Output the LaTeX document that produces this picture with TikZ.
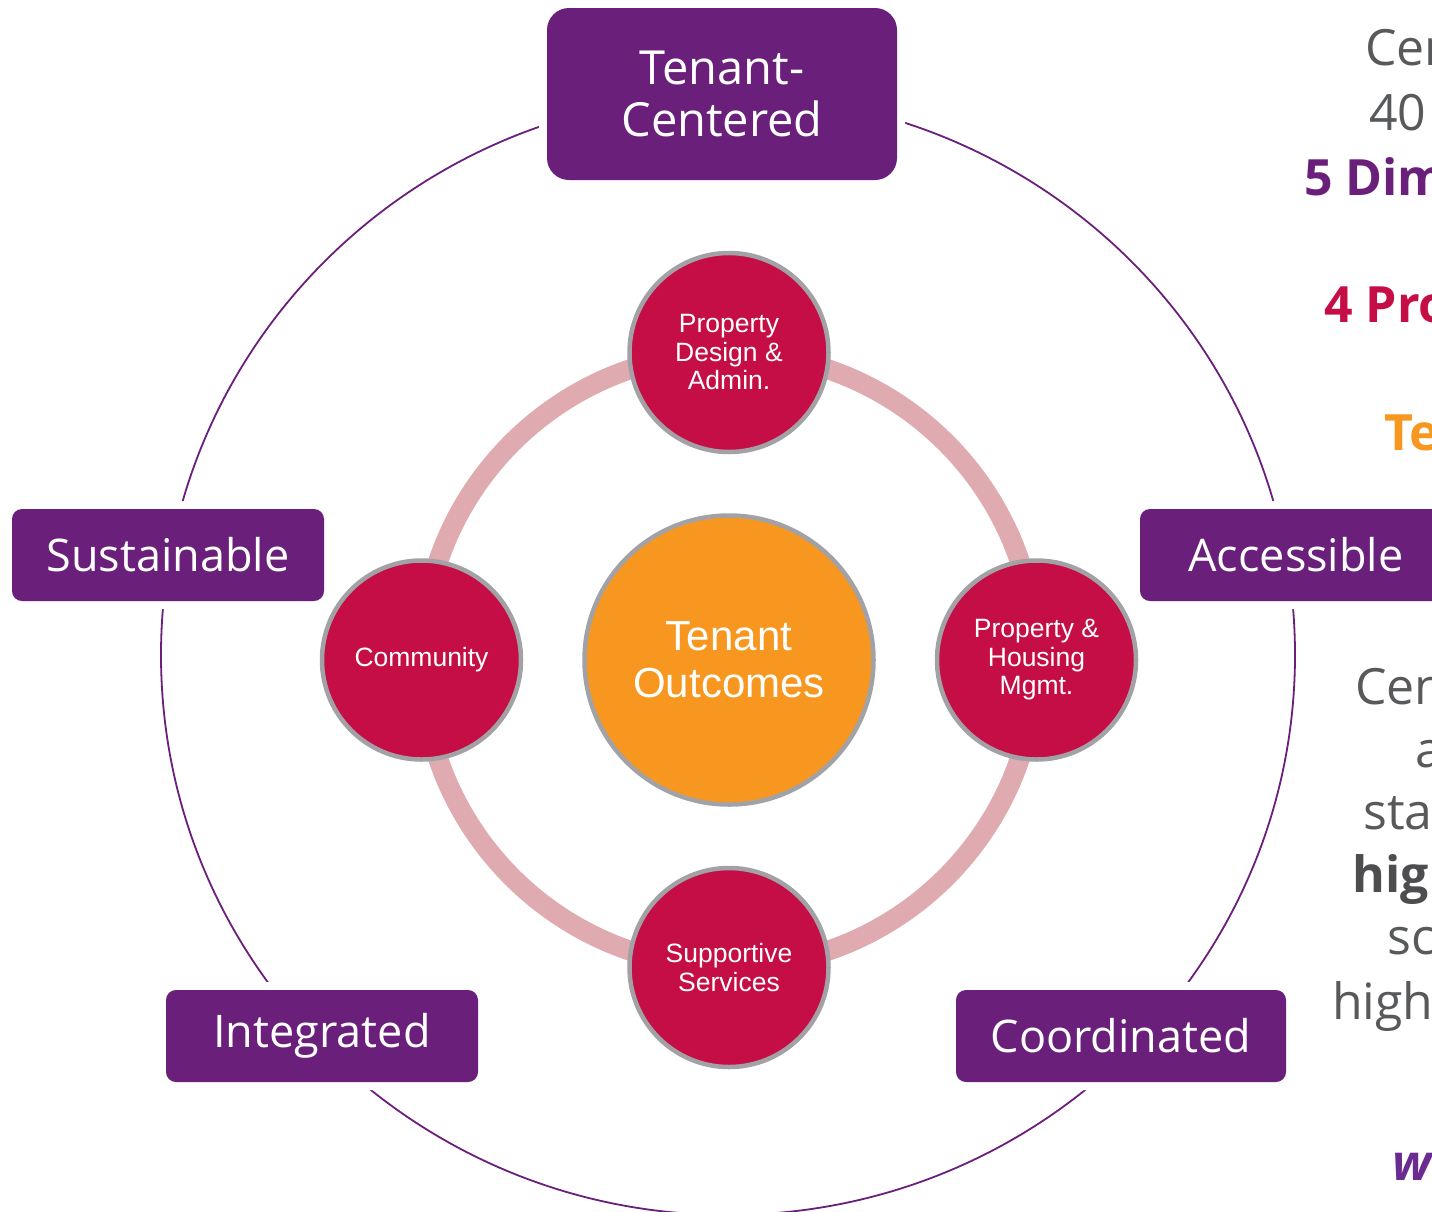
\documentclass[tikz,border=0pt]{standalone}
\usepackage{fontspec}
\setmainfont{Open Sans}
\newfontfamily\arialfont{Liberation Sans}
\usepackage{xcolor}
\usepackage{tikz}
\usetikzlibrary{positioning}

\definecolor{dimpurple}{HTML}{6A1F7A}
\definecolor{areared}{HTML}{C40E45}
\definecolor{coreorange}{HTML}{F7971F}
\definecolor{rimgray}{HTML}{A2A2A6}
\definecolor{ringpink}{HTML}{DFAAB0}
\definecolor{bodygray}{HTML}{58595B}
\definecolor{stronggray}{HTML}{4D4D4F}
\definecolor{linkpurple}{HTML}{6B2C91}

\begin{document}
\begin{tikzpicture}[
        x=1pt, y=-1pt,
        dim/.style={rectangle, fill=dimpurple, text=white, rounded corners=10pt, minimum width=312pt, minimum height=92pt, inner sep=0pt, align=center, font=\fontsize{45}{52}\selectfont, preaction={draw=white, line width=16pt}},
        area/.style={circle, fill=areared, draw=rimgray, line width=4.5pt, minimum size=199pt, inner sep=0pt, align=center, text=white, font=\arialfont\fontsize{26.5}{28.5}\selectfont},
        core/.style={circle, fill=coreorange, draw=rimgray, line width=4.5pt, minimum size=289pt, inner sep=0pt, align=center, text=white, font=\arialfont\fontsize{42}{47}\selectfont},
        cycleline/.style={draw=dimpurple, line width=1.8pt},
        ring/.style={draw=ringpink, line width=20pt},
        side/.style={anchor=base west, inner sep=0pt, font=\fontsize{50}{63}\selectfont, text=bodygray},
    ]
        \useasboundingbox (0,0) rectangle (1432,1211);
        \clip (0,0) rectangle (1432,1211);

        % Outer cycle through the dimensions
        \coordinate (mid) at (728,655);
        \draw[cycleline] (mid) ellipse[x radius=567pt, y radius=560pt];

        % Dimensions
        \node[dim, minimum width=350pt, minimum height=172pt, rounded corners=22pt, font=\fontsize{47}{52}\selectfont] (centered) at (722,94) {Tenant-\\Centered};
        \node[dim] (sustainable) at (168,555) {Sustainable};
        \node[dim] (accessible) at (1296,555) {Accessible};
        \node[dim] (integrated) at (322,1036) {Integrated};
        \node[dim, minimum width=330pt] (coordinated) at (1121,1036) {Coordinated};

        % Program areas round the outcomes
        \coordinate (hub) at (729,660);
        \draw[ring] (hub) circle[radius=307pt];
        \node[core] (core) at (hub) {Tenant\\Outcomes};
        \node[area, above=59pt of core] (design) {Property\\Design \&\\Admin.};
        \node[area, right=59pt of core] (housing) {Property \&\\Housing\\Mgmt.};
        \node[area, below=59pt of core] (services) {Supportive\\Services};
        \node[area, left=59pt of core] (community) {Community};

        % Side text
        \node[side] (s1) at (1365,65) {Cen};
        \node[side] (s2) at (1369,130) {40};
        \node[side, text=dimpurple, font=\bfseries\fontsize{50}{63}\selectfont] (s3) at (1304,195) {5 Dim};
        \node[side, text=areared, font=\bfseries\fontsize{50}{63}\selectfont] (s4) at (1324,322) {4 Pro};
        \node[side, text=coreorange, font=\bfseries\fontsize{50}{63}\selectfont] (s5) at (1384,450) {Te};
        \node[side] (s6) at (1355,704) {Cen};
        \node[side] (s7) at (1415,767) {a};
        \node[side] (s8) at (1363,829) {sta};
        \node[side, text=stronggray, font=\bfseries\fontsize{50}{63}\selectfont] (s9) at (1352,892) {hig};
        \node[side] (s10) at (1387,954) {sc};
        \node[side] (s11) at (1332,1019) {high};
        \node[side, text=linkpurple, font=\bfseries\itshape\fontsize{50}{63}\selectfont] (s12) at (1392,1180) {wi};
    \end{tikzpicture}
\end{document}
